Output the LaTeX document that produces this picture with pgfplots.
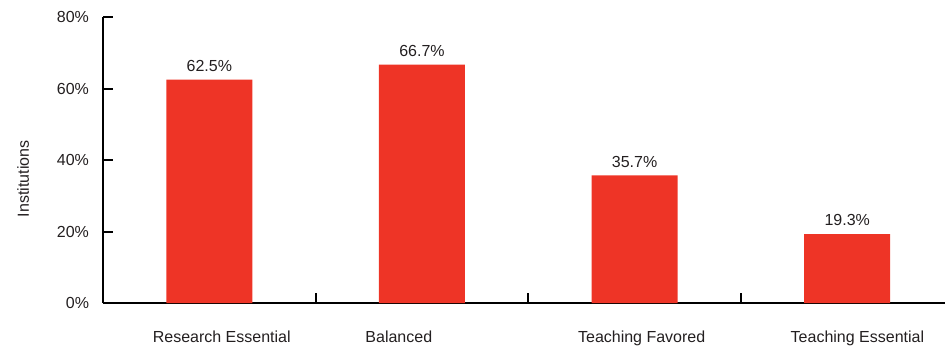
\documentclass[border=0pt]{standalone}
\usepackage{fontspec}
\setmainfont{Liberation Sans}
\usepackage{pgfplots}
\pgfplotsset{compat=1.18}
\definecolor{barred}{RGB}{238,52,38}
\definecolor{txt}{RGB}{35,31,32}
\begin{document}
\begin{tikzpicture}[x=1bp,y=1bp]
\path[use as bounding box] (0,0) rectangle (945,349);
\begin{axis}[
  at={(103bp,46bp)}, anchor=south west,
  scale only axis, width=842bp, height=286bp,
  xmin=-0.5, xmax=3.46, ymin=0, ymax=80,
  axis x line=bottom, axis y line=left,
  axis line style={line width=2bp, black, -},
  font=\fontsize{16bp}{19bp}\selectfont,
  /pgf/number format/assume math mode=true,
  ytick={0,20,40,60,80},
  yticklabel={\pgfmathprintnumber{\tick}\%},
  yticklabel style={xshift=-10.5bp, text=txt},
  tick style={line width=2bp, black},
  major tick length=10bp, tick align=inside,
  xtick={0.5,1.5,2.5},
  xticklabels={},
  xtick style={yshift=10bp},
  extra x ticks={0,1,2,3},
  extra x tick labels={Research Essential, Balanced, Teaching Favored, Teaching Essential},
  extra x tick style={xtick style={draw=none}, xticklabel style={anchor=north west, xshift=-60bp, yshift=-14bp, text=txt}},
  ylabel={Institutions},
  ylabel style={at={(axis description cs:-0.0947,0.434)}, anchor=center, rotate=0, text=txt},
  ybar, bar width=86bp,
  nodes near coords={\pgfmathprintnumber[fixed,fixed zerofill,precision=1,assume math mode=true]{\pgfplotspointmeta}\%},
  nodes near coords style={text=txt, yshift=4.7bp},
]
\addplot[fill=barred, draw=none] coordinates {(0,62.5) (1,66.7) (2,35.7) (3,19.3)};
\end{axis}
\end{tikzpicture}
\end{document}
